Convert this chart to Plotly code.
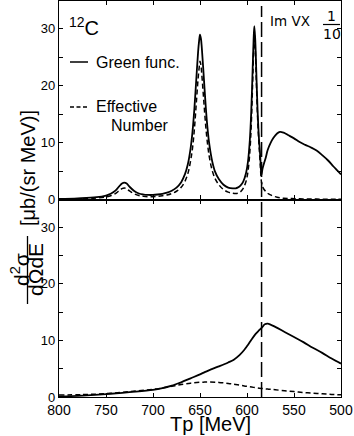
import plotly.graph_objects as go

# ---------------- data ----------------
top_tp = [800, 780, 760, 750, 745, 740, 736, 733, 730.5, 728, 725, 720, 715, 710, 705, 700,
          695, 690, 685, 680, 675, 670, 666, 663, 660, 658, 656, 654, 652, 651, 650, 649,
          648, 646, 644, 642, 640, 637, 634, 630, 625, 620, 615, 612, 610, 607, 604, 601,
          599, 597, 595.5, 594, 593, 592.2, 591.2, 590.2, 588.7, 587.2, 586.2, 585.5, 584.7,
          583.5, 582, 580, 578, 575, 572, 568, 565, 561, 556, 550, 544, 538, 532, 526, 520,
          514, 508, 504, 500]
top_green = [0.1, 0.2, 0.4, 0.7, 1.0, 1.55, 2.3, 2.8, 2.95, 2.8, 2.25, 1.5, 1.05, 0.87, 0.8, 0.8,
             0.88, 1.0, 1.2, 1.55, 2.1, 3.05, 4.45, 6.15, 9.0, 11.9, 15.9, 21.0, 26.0, 27.8, 29.0, 28.3,
             26.5, 21.6, 16.6, 12.5, 9.6, 6.7, 4.9, 3.6, 2.6, 2.1, 1.95, 1.97, 2.08, 2.43, 3.15, 4.65,
             6.6, 10.4, 15.4, 22.9, 28.0, 30.5, 28.0, 23.0, 15.5, 10.5, 8.3, 6.4, 4.3,
             5.4, 6.3, 7.4, 8.7, 9.9, 10.8, 11.6, 11.9, 11.75, 11.3, 10.75, 10.1, 9.6, 9.15, 8.6, 7.8,
             6.9, 5.8, 5.1, 4.4]
top_effective = [0.05, 0.1, 0.25, 0.45, 0.65, 1.05, 1.55, 1.9, 2.0, 1.9, 1.5, 1.0, 0.7, 0.55, 0.5, 0.5,
                 0.55, 0.65, 0.8, 1.05, 1.45, 2.15, 3.2, 4.5, 6.8, 9.0, 12.3, 16.8, 21.3, 23.0, 24.3, 23.6,
                 21.8, 17.4, 13.1, 9.8, 7.4, 5.1, 3.7, 2.6, 1.75, 1.3, 1.1, 1.05, 1.1, 1.35, 1.95, 3.2,
                 4.9, 8.3, 13.0, 20.5, 26.0, 29.0, 26.5, 21.5, 14.3, 9.5, 7.0, 5.0, 3.2,
                 2.3, 1.8, 1.4, 1.1, 0.8, 0.6, 0.4, 0.3, 0.22, 0.18, 0.15, 0.12, 0.1, 0.08, 0.07, 0.06,
                 0.05, 0.05, 0.04, 0.04]

bot_tp = [800, 775, 750, 725, 700, 690, 680, 675, 670, 660, 650, 645, 640, 630, 620, 614, 608,
          603, 599, 595, 591, 587, 584, 581, 578, 575, 570, 560, 550, 540, 530, 520, 510, 500]
bot_green = [0.08, 0.25, 0.5, 0.85, 1.25, 1.55, 2.0, 2.3, 2.6, 3.3, 4.0, 4.4, 4.75, 5.4, 6.1, 6.6, 7.4,
             8.3, 9.2, 10.2, 11.1, 11.8, 12.3, 12.85, 12.95, 12.8, 12.4, 11.5, 10.6, 9.7, 8.7, 7.8, 6.8, 5.9]
bot_effective = [0.35, 0.42, 0.6, 0.95, 1.35, 1.6, 1.9, 2.05, 2.2, 2.45, 2.6, 2.63, 2.65, 2.58, 2.4, 2.25, 2.1,
                 1.95, 1.85, 1.75, 1.65, 1.55, 1.5, 1.45, 1.4, 1.35, 1.28, 1.1, 0.95, 0.8, 0.68, 0.56, 0.46, 0.38]

x_ticks = [800, 750, 700, 650, 600, 550, 500]
y_ticks = [0, 10, 20, 30]
y_minor_step = 5
threshold_tp = 584.5

# ---------------- layout helpers ----------------
W, H = 354, 436
L, R, T, B = 59, 13, 1, 39
PW, PH = W - L - R, H - T - B


def xp(px):
    return (px - L) / PW


def yp(py):
    return (H - B - py) / PH


split = yp(199.5)
FONT = "Liberation Sans, Arial, sans-serif"

fig = go.Figure()
solid = dict(color="black", width=1.8)
dashed = dict(color="black", width=1.5, dash="5px,3px")

fig.add_trace(go.Scatter(x=top_tp, y=top_green, mode="lines", line=solid,
                         xaxis="x2", yaxis="y2", showlegend=False, line_shape="spline"))
fig.add_trace(go.Scatter(x=top_tp, y=top_effective, mode="lines", line=dashed,
                         xaxis="x2", yaxis="y2", showlegend=False, line_shape="spline"))
fig.add_trace(go.Scatter(x=bot_tp, y=bot_green, mode="lines", line=solid,
                         xaxis="x", yaxis="y", showlegend=False, line_shape="spline"))
fig.add_trace(go.Scatter(x=bot_tp, y=bot_effective, mode="lines", line=dashed,
                         xaxis="x", yaxis="y", showlegend=False, line_shape="spline"))

common_x = dict(range=[800, 500], tickvals=x_ticks, ticks="inside", ticklen=4, tickwidth=1.2,
                showline=True, linecolor="black", linewidth=1.3, mirror="allticks",
                showgrid=False, zeroline=False, tickcolor="black")
common_y = dict(range=[0, 34.9], tickvals=y_ticks, ticks="inside",
                ticklen=4, tickwidth=1.2, showline=True, linecolor="black", linewidth=1.3,
                mirror="allticks", showgrid=False, zeroline=False, tickcolor="black",
                minor=dict(dtick=y_minor_step, tick0=0, ticks="inside", ticklen=4, tickwidth=1.2,
                           tickcolor="black", showgrid=False),
                tickfont=dict(family=FONT, size=13, color="black"))

fig.update_layout(
    width=W, height=H,
    margin=dict(l=L, r=R, t=T, b=B, pad=0),
    paper_bgcolor="white", plot_bgcolor="white",
    xaxis=dict(**common_x, anchor="y", tickfont=dict(family=FONT, size=14, color="black")),
    yaxis=dict(**common_y, domain=[0, split], anchor="x"),
    xaxis2=dict(**common_x, anchor="y2", matches="x", showticklabels=False),
    yaxis2=dict(**common_y, domain=[split, 1], anchor="x2"),
)

# threshold dashed vertical line
fig.add_shape(type="line", xref="x", yref="paper", x0=threshold_tp, x1=threshold_tp,
              y0=0, y1=yp(6), line=dict(color="black", width=1.5, dash="15px,5px"))

ann = []
# 12C label
ann.append(dict(text="<sup>12</sup>C", x=xp(67), y=yp(26), xanchor="left", yanchor="middle",
                font=dict(family=FONT, size=20, color="black")))
# legend
fig.add_shape(type="line", xref="paper", yref="paper", x0=xp(70), x1=xp(88), y0=yp(62), y1=yp(62),
              line=dict(color="black", width=1.5))
fig.add_shape(type="line", xref="paper", yref="paper", x0=xp(70), x1=xp(87), y0=yp(107), y1=yp(107),
              line=dict(color="black", width=1.3, dash="4px,2.5px"))
ann.append(dict(text="Green func.", x=xp(94), y=yp(62), xanchor="left", yanchor="middle",
                font=dict(family=FONT, size=16, color="black")))
ann.append(dict(text="Effective", x=xp(94), y=yp(107), xanchor="left", yanchor="middle",
                font=dict(family=FONT, size=16, color="black")))
ann.append(dict(text="Number", x=xp(109), y=yp(126), xanchor="left", yanchor="middle",
                font=dict(family=FONT, size=16, color="black")))
# Im V x 1/10
VFONT = "DejaVu Sans, Verdana, sans-serif"
ann.append(dict(text="Im VX", x=xp(312), y=yp(21), xanchor="right", yanchor="middle",
                font=dict(family=VFONT, size=13.5, color="black")))
ann.append(dict(text="1", x=xp(331), y=yp(16), xanchor="center", yanchor="middle",
                font=dict(family=VFONT, size=14, color="black")))
ann.append(dict(text="10", x=xp(332), y=yp(33.5), xanchor="center", yanchor="middle",
                font=dict(family=VFONT, size=14, color="black")))
fig.add_shape(type="line", xref="paper", yref="paper", x0=xp(323), x1=xp(340), y0=yp(24.5), y1=yp(24.5),
              line=dict(color="black", width=1.2))
# y-axis title
ann.append(dict(text="[μb/(sr MeV)]", x=xp(28), y=yp(168), xanchor="center", yanchor="middle",
                textangle=-90, font=dict(family=FONT, size=20, color="black")))
ann.append(dict(text="d<sup>2</sup>σ", x=xp(20), y=yp(270), xanchor="center", yanchor="middle",
                textangle=-90, font=dict(family=FONT, size=21, color="black")))
ann.append(dict(text="dΩdE", x=xp(35), y=yp(270), xanchor="center", yanchor="middle",
                textangle=-90, font=dict(family=FONT, size=21, color="black")))
fig.add_shape(type="line", xref="paper", yref="paper", x0=xp(27.5), x1=xp(27.5), y0=yp(236), y1=yp(304),
              line=dict(color="black", width=1.3))
# x-axis title
ann.append(dict(text="Tp [MeV]", x=xp(210), y=yp(424), xanchor="center", yanchor="middle",
                font=dict(family=FONT, size=20, color="black")))

for a in ann:
    a.update(xref="paper", yref="paper", showarrow=False)
fig.update_layout(annotations=ann)

fig.write_html("out.html", config={"displayModeBar": False},
               post_script="document.body.style.margin='0';document.body.style.padding='0';")
